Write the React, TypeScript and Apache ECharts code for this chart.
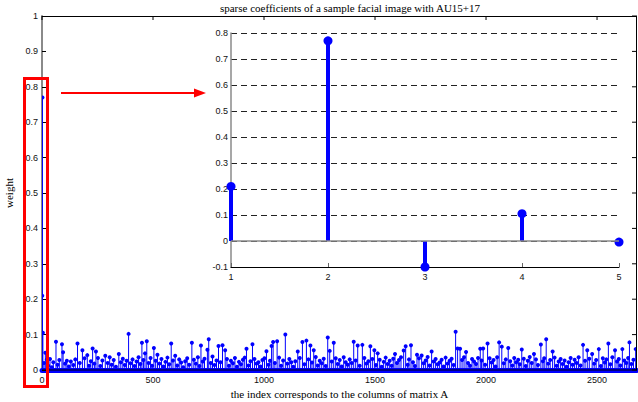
import React, { useEffect, useRef } from "react";
import * as echarts from "echarts";

const TITLE = "sparse coefficients of a sample facial image with AU15+17";
const X_NAME = "the index corresponds to the columns of matrix A";
const Y_NAME = "weight";

// first five coefficients (shown in the inset)
const firstIdx = [1, 2, 3, 4, 5];
const firstVal = [0.21, 0.77, -0.1, 0.105, -0.004];

// taller coefficients [index, weight]
const midCoef: [number, number][] = [
  [15, 0.049], [22, 0.03], [63, 0.08], [90, 0.073], [95, 0.05], [160, 0.075], [182, 0.056],
  [204, 0.042], [228, 0.061], [243, 0.052], [285, 0.04], [346, 0.045], [390, 0.102],
  [450, 0.077], [464, 0.047], [472, 0.081], [504, 0.062], [520, 0.043], [582, 0.075],
  [600, 0.04], [675, 0.077], [716, 0.069], [745, 0.057], [751, 0.087], [795, 0.068],
  [813, 0.07], [825, 0.056], [921, 0.06], [948, 0.073], [1011, 0.053], [1034, 0.068],
  [1041, 0.079], [1059, 0.081], [1096, 0.1], [1152, 0.052], [1173, 0.079], [1191, 0.083],
  [1209, 0.069], [1224, 0.056], [1287, 0.092], [1296, 0.054], [1314, 0.077], [1404, 0.08],
  [1422, 0.069], [1443, 0.071], [1479, 0.067], [1497, 0.056], [1512, 0.047], [1590, 0.045],
  [1629, 0.055], [1638, 0.067], [1662, 0.07], [1689, 0.043], [1710, 0.041], [1755, 0.052],
  [1863, 0.108], [1872, 0.061], [1883, 0.06], [1910, 0.051], [1974, 0.06], [1987, 0.061],
  [2007, 0.075], [2059, 0.078], [2071, 0.066], [2100, 0.062], [2161, 0.058], [2216, 0.045],
  [2247, 0.072], [2271, 0.087], [2300, 0.052], [2437, 0.071], [2456, 0.056], [2478, 0.045],
  [2508, 0.059], [2551, 0.075], [2581, 0.056], [2614, 0.059], [2646, 0.078], [2674, 0.059],
];

// small coefficients forming the dense band near zero [index, weight]
const smallCoef: [number, number][] = [
  [9, 0.02], [28, 0.012], [36, 0.031], [44, 0.008], [51, 0.022], [70, 0.015], [78, 0.028],
  [104, 0.018], [112, 0.026], [121, 0.01], [130, 0.024], [141, 0.014], [150, 0.03],
  [170, 0.02], [192, 0.033], [212, 0.012], [220, 0.025], [236, 0.018], [252, 0.034],
  [263, 0.011], [272, 0.027], [296, 0.02], [305, 0.036], [314, 0.015], [323, 0.028],
  [333, 0.009], [355, 0.022], [364, 0.032], [373, 0.014], [381, 0.026], [399, 0.019],
  [408, 0.03], [417, 0.011], [426, 0.024], [435, 0.036], [443, 0.017], [457, 0.028],
  [480, 0.02], [489, 0.034], [496, 0.012], [512, 0.026], [529, 0.018], [538, 0.031],
  [547, 0.01], [556, 0.023], [565, 0.035], [573, 0.016], [590, 0.027], [609, 0.013],
  [618, 0.03], [627, 0.021], [636, 0.008], [645, 0.025], [654, 0.033], [663, 0.015],
  [684, 0.029], [693, 0.018], [702, 0.036], [709, 0.011], [724, 0.024], [732, 0.032],
  [760, 0.02], [768, 0.038], [777, 0.014], [786, 0.027], [804, 0.022], [833, 0.031],
  [842, 0.012], [851, 0.026], [860, 0.019], [869, 0.034], [878, 0.009], [887, 0.023],
  [896, 0.016], [905, 0.029], [913, 0.035], [930, 0.013], [939, 0.025], [957, 0.031],
  [966, 0.018], [975, 0.022], [984, 0.01], [993, 0.028], [1002, 0.033], [1020, 0.015],
  [1027, 0.026], [1049, 0.02], [1068, 0.035], [1077, 0.012], [1086, 0.027], [1105, 0.018],
  [1114, 0.031], [1123, 0.022], [1132, 0.009], [1141, 0.025], [1161, 0.034], [1182, 0.016],
  [1200, 0.03], [1216, 0.021], [1233, 0.037], [1242, 0.013], [1251, 0.026], [1260, 0.019],
  [1269, 0.032], [1278, 0.011], [1305, 0.024], [1323, 0.033], [1332, 0.017], [1341, 0.028],
  [1350, 0.01], [1359, 0.036], [1368, 0.022], [1377, 0.015], [1386, 0.03], [1395, 0.02],
  [1413, 0.027], [1431, 0.012], [1452, 0.034], [1461, 0.018], [1470, 0.025], [1488, 0.031],
  [1504, 0.014], [1521, 0.029], [1530, 0.009], [1539, 0.023], [1548, 0.035], [1557, 0.017],
  [1566, 0.026], [1575, 0.012], [1582, 0.032], [1599, 0.02], [1608, 0.028], [1617, 0.036],
  [1647, 0.015], [1653, 0.03], [1671, 0.022], [1680, 0.011], [1698, 0.033], [1719, 0.019],
  [1728, 0.027], [1737, 0.037], [1746, 0.013], [1764, 0.024], [1773, 0.031], [1782, 0.016],
  [1791, 0.021], [1800, 0.029], [1809, 0.01], [1818, 0.035], [1827, 0.018], [1836, 0.026],
  [1845, 0.032], [1854, 0.014], [1892, 0.028], [1901, 0.036], [1919, 0.02], [1928, 0.012],
  [1937, 0.031], [1946, 0.024], [1955, 0.017], [1964, 0.034], [1980, 0.027], [1996, 0.015],
  [2016, 0.033], [2025, 0.021], [2034, 0.028], [2043, 0.01], [2050, 0.036], [2080, 0.019],
  [2089, 0.03], [2109, 0.025], [2118, 0.013], [2127, 0.034], [2136, 0.022], [2145, 0.029],
  [2152, 0.016], [2170, 0.032], [2179, 0.011], [2188, 0.026], [2197, 0.037], [2206, 0.02],
  [2225, 0.03], [2234, 0.014], [2256, 0.025], [2262, 0.033], [2280, 0.018], [2289, 0.028],
  [2309, 0.035], [2318, 0.012], [2327, 0.024], [2336, 0.031], [2345, 0.017], [2354, 0.027],
  [2363, 0.009], [2372, 0.022], [2381, 0.034], [2390, 0.015], [2399, 0.029], [2408, 0.02],
  [2417, 0.036], [2426, 0.013], [2446, 0.026], [2465, 0.032], [2487, 0.018], [2496, 0.028],
  [2517, 0.011], [2526, 0.033], [2535, 0.021], [2542, 0.03], [2560, 0.016], [2569, 0.036],
  [2590, 0.024], [2598, 0.031], [2605, 0.013], [2623, 0.027], [2632, 0.02], [2640, 0.034],
  [2655, 0.017], [2664, 0.029],
];

const mainTicks = [0, 500, 1000, 1500, 2000, 2500];
const weightTicks = [0, 0.1, 0.2, 0.3, 0.4, 0.5, 0.6, 0.7, 0.8, 0.9, 1];
const insetTicks = [1, 2, 3, 4, 5];
const X_MAX = 2680;

const BLUE = "#0000ff";

function stemRenderer(lineWidth: number, r: number) {
  return (params: any, api: any) => {
    const x = api.value(0);
    const y = api.value(1);
    const p0 = api.coord([x, 0]);
    const p1 = api.coord([x, y]);
    return {
      type: "group",
      children: [
        {
          type: "line",
          shape: { x1: p0[0], y1: p0[1], x2: p1[0], y2: p1[1] },
          style: { stroke: BLUE, lineWidth },
        },
        {
          type: "circle",
          shape: { cx: p1[0], cy: p1[1], r },
          style: { fill: BLUE },
        },
      ],
    };
  };
}

export default function App() {
  const ref = useRef<HTMLDivElement>(null);
  useEffect(() => {
    if (!ref.current) return;
    const chart = echarts.init(ref.current, undefined, { renderer: "svg" });
    const sans = "'Liberation Sans', Arial, sans-serif";
    const serif = "'Liberation Serif', 'Times New Roman', serif";

    const mainData: [number, number][] = [
      ...firstIdx.map((x, i) => [x, firstVal[i]] as [number, number]),
      ...midCoef,
      ...smallCoef,
    ];
    const insetData = firstIdx.map((x, i) => [x, firstVal[i]]);

    const labelStyle = { fontFamily: sans, fontSize: 9, color: "#111" };

    const baseGraphic: any[] = [
      {
        type: "text",
        x: 350,
        y: 8,
        style: {
          text: TITLE,
          font: `11px ${serif}`,
          fill: "#000",
          textAlign: "center",
          textVerticalAlign: "middle",
        },
      },
      {
        type: "rect",
        shape: { x: 24.5, y: 78.5, width: 23, height: 308 },
        style: { fill: "none", stroke: "#ff0000", lineWidth: 3 },
        z: 100,
      },
      {
        type: "line",
        shape: { x1: 61, y1: 93, x2: 196, y2: 93 },
        style: { stroke: "#ff0000", lineWidth: 2 },
        z: 100,
      },
      {
        type: "polygon",
        shape: { points: [[194, 88.5], [206, 93], [194, 97.5]] },
        style: { fill: "#ff0000" },
        z: 100,
      },
    ];

    chart.setOption({
      animation: false,
      grid: [
        { left: 42, top: 16, right: 1, bottom: 32, containLabel: false, outerBoundsMode: "none" },
        { left: 231, top: 33, right: 19, bottom: 135, containLabel: false, outerBoundsMode: "none" },
      ],
      xAxis: [
        {
          gridIndex: 0,
          type: "value",
          min: 0,
          max: X_MAX,
          interval: 500,
          position: "bottom",
          name: X_NAME,
          nameLocation: "middle",
          nameGap: 17,
          nameTextStyle: { fontFamily: serif, fontSize: 11, color: "#000" },
          axisLine: { show: true, onZero: false, lineStyle: { color: BLUE, width: 5 } },
          axisTick: { show: false },
          axisLabel: {
            ...labelStyle,
            margin: 5,
            showMaxLabel: false,
            formatter: (v: number) => (mainTicks.includes(v) ? String(v) : ""),
          },
          splitLine: { show: false },
        },
        {
          gridIndex: 1,
          type: "value",
          min: 1,
          max: 5,
          interval: 1,
          position: "bottom",
          axisLine: { show: true, onZero: false, lineStyle: { color: "#000", width: 1 } },
          axisTick: { show: true, inside: true, length: 4, lineStyle: { color: "#666" } },
          axisLabel: {
            ...labelStyle,
            margin: 5,
            formatter: (v: number) => (insetTicks.includes(v) ? String(v) : ""),
          },
          splitLine: { show: false },
        },
      ],
      yAxis: [
        {
          gridIndex: 0,
          type: "value",
          min: 0,
          max: 1,
          interval: 0.1,
          position: "left",
          name: Y_NAME,
          nameLocation: "middle",
          nameGap: 23,
          nameRotate: 90,
          nameTextStyle: { fontFamily: serif, fontSize: 11, color: "#000" },
          axisLine: { show: true, onZero: false, lineStyle: { color: "#8a8a8a", width: 2 } },
          axisTick: { show: true, inside: true, length: 4, lineStyle: { color: "#000" } },
          axisLabel: { ...labelStyle, margin: 4 },
          splitLine: { show: false },
        },
        {
          gridIndex: 1,
          type: "value",
          min: -0.1,
          max: 0.8,
          interval: 0.1,
          position: "left",
          axisLine: { show: true, onZero: false, lineStyle: { color: "#8a8a8a", width: 1.5 } },
          axisTick: { show: false },
          axisLabel: { ...labelStyle, margin: 3 },
          splitLine: {
            show: true,
            showMinLine: false,
            lineStyle: { color: "#222", width: 1, type: [6, 4] },
          },
        },
      ],
      graphic: baseGraphic,
      series: [
        {
          type: "custom",
          xAxisIndex: 0,
          yAxisIndex: 0,
          data: mainData,
          renderItem: stemRenderer(1, 2),
          clip: true,
          z: 2,
        },
        {
          type: "custom",
          xAxisIndex: 1,
          yAxisIndex: 1,
          data: insetData,
          renderItem: stemRenderer(4, 4.5),
          clip: false,
          z: 3,
          markLine: {
            silent: true,
            symbol: "none",
            label: { show: false },
            lineStyle: { color: "#8a8a8a", type: "solid", width: 1.5 },
            data: [{ yAxis: 0 }],
          },
        },
      ],
    });

    // frame (top & right edges, zero line) and their ticks, placed through the main axes' scales
    const px = (v: number, w: number) => chart.convertToPixel({ gridIndex: 0 }, [v, w]) as number[];
    const tl = px(0, 1);
    const tr = px(X_MAX, 1);
    const br = px(X_MAX, 0);
    const bl = px(0, 0);
    const frame: any[] = [
      { type: "line", shape: { x1: tl[0], y1: tl[1] + 0.5, x2: tr[0], y2: tr[1] + 0.5 }, style: { stroke: "#000", lineWidth: 1 }, z: 60 },
      { type: "line", shape: { x1: tr[0] - 0.5, y1: tr[1], x2: br[0] - 0.5, y2: br[1] }, style: { stroke: "#000", lineWidth: 1 }, z: 60 },
      { type: "line", shape: { x1: bl[0], y1: bl[1], x2: br[0], y2: br[1] }, style: { stroke: "#000", lineWidth: 1 }, z: 60 },
    ];
    mainTicks.forEach((v) => {
      const p = px(v, 1);
      frame.push({ type: "line", shape: { x1: p[0], y1: p[1], x2: p[0], y2: p[1] + 4 }, style: { stroke: "#000", lineWidth: 1 }, z: 60 });
    });
    weightTicks.forEach((w) => {
      const p = px(X_MAX, w);
      frame.push({ type: "line", shape: { x1: p[0] - 5, y1: p[1], x2: p[0], y2: p[1] }, style: { stroke: "#000", lineWidth: 1 }, z: 60 });
    });
    chart.setOption({ graphic: [...baseGraphic, ...frame] });

    return () => chart.dispose();
  }, []);
  return (
    <div
      ref={ref}
      style={{ position: "fixed", left: 0, top: 0, width: 638, height: 402, background: "#fff" }}
    />
  );
}
